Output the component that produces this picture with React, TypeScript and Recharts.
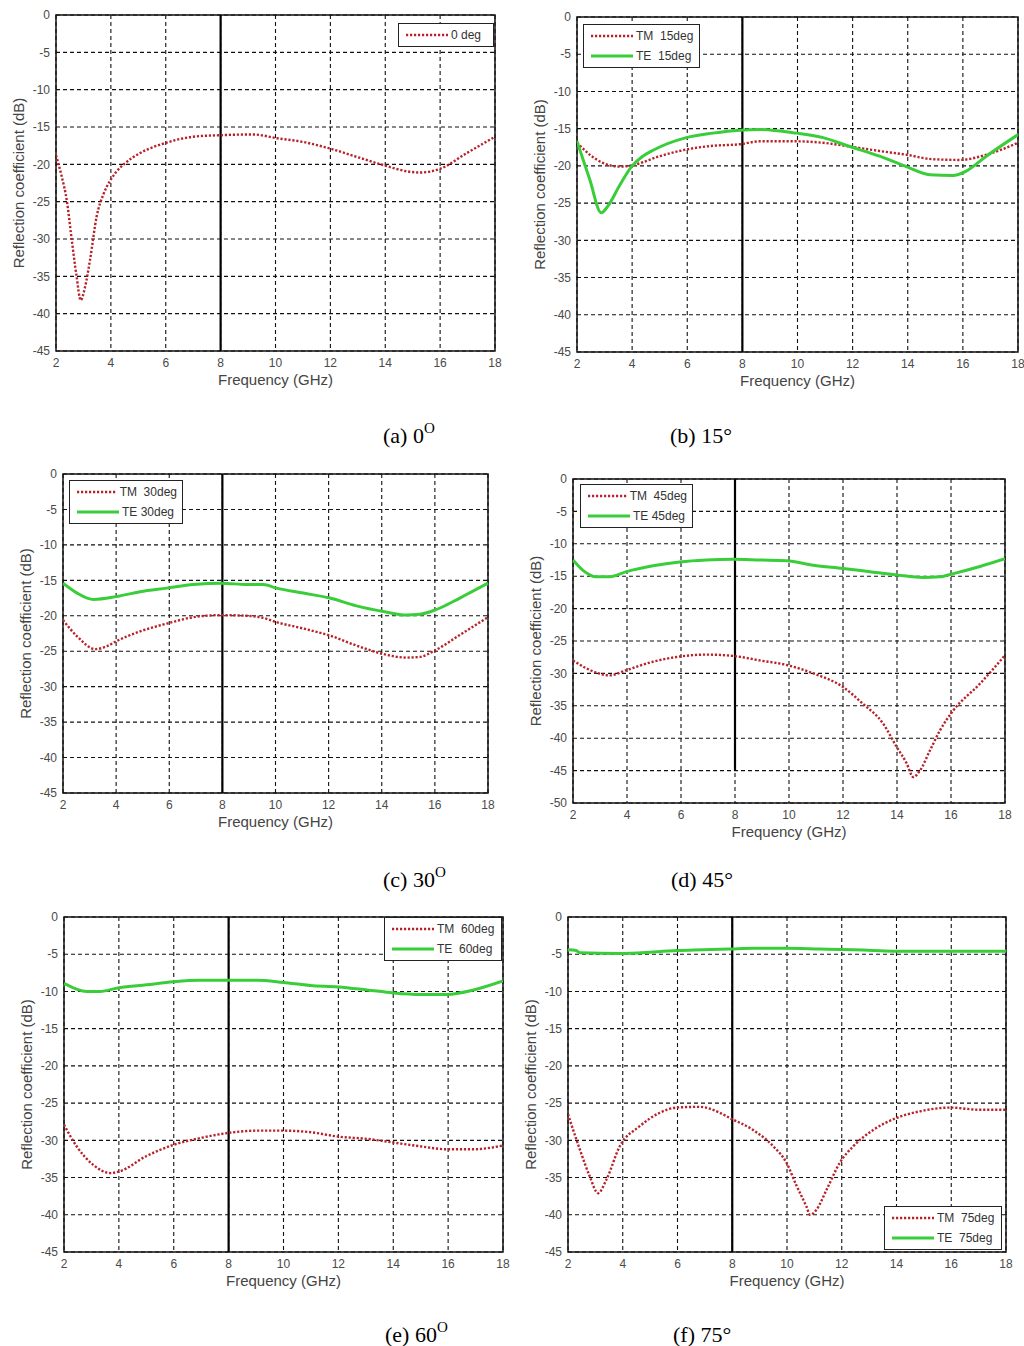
import React from 'react';
import {
  LineChart,
  Line,
  XAxis,
  YAxis,
  CartesianGrid,
  ReferenceLine,
  ReferenceArea,
  Legend,
} from 'recharts';

// ---------- shared ticks ----------
const FREQ_TICKS = [2, 4, 6, 8, 10, 12, 14, 16, 18];
const DB_TICKS_45 = [-45, -40, -35, -30, -25, -20, -15, -10, -5, 0];
const DB_TICKS_50 = [-50, -45, -40, -35, -30, -25, -20, -15, -10, -5, 0];

// ---------- (a) 0 deg ----------
const freqA_TM = [2.0, 2.2, 2.4, 2.57, 2.75, 2.9, 3.06, 3.24, 3.48, 3.73, 3.97, 4.2, 4.5, 5.06, 6.03, 7.0, 7.98, 9.2, 10.05, 11.0, 12.0, 12.96, 13.93, 14.9, 15.27, 16.0, 16.97, 18.0];
const dbA_TM = [-18.8, -21.5, -25.0, -30.0, -35.0, -38.2, -36.4, -32.8, -27.0, -24.0, -22.2, -21.0, -19.9, -18.5, -17.1, -16.3, -16.1, -16.0, -16.5, -17.0, -17.9, -19.0, -20.1, -21.0, -21.1, -20.6, -18.5, -16.3];

// ---------- (b) 15 deg ----------
const freqB_TM = [2.0, 2.5, 2.94, 3.55, 4.03, 5.0, 5.97, 6.93, 7.9, 8.63, 9.96, 10.93, 11.9, 12.98, 13.95, 14.9, 15.88, 16.85, 18.0];
const dbB_TM = [-16.9, -18.6, -19.6, -20.1, -19.9, -18.7, -17.8, -17.3, -17.1, -16.7, -16.7, -16.9, -17.4, -18.0, -18.5, -19.1, -19.2, -18.5, -16.9];
const freqB_TE = [2.0, 2.46, 2.88, 3.12, 3.55, 4.0, 4.35, 4.76, 5.97, 6.93, 7.9, 8.63, 9.96, 10.93, 11.9, 12.98, 13.95, 14.8, 15.64, 16.12, 16.85, 18.0];
const dbB_TE = [-16.7, -21.8, -26.3, -25.4, -22.6, -20.0, -18.8, -17.9, -16.2, -15.6, -15.2, -15.1, -15.6, -16.2, -17.4, -18.7, -20.1, -21.2, -21.3, -20.7, -18.7, -15.8];

// ---------- (c) 30 deg ----------
const freqC_TM = [2.0, 2.53, 3.22, 3.65, 4.0, 4.9, 5.91, 6.91, 7.98, 8.92, 9.54, 10.04, 11.05, 12.05, 13.05, 14.06, 14.93, 15.43, 16.0, 16.94, 18.0];
const dbC_TM = [-20.6, -22.9, -24.7, -24.3, -23.6, -22.2, -21.1, -20.2, -19.9, -20.0, -20.3, -20.9, -21.8, -22.8, -24.2, -25.4, -25.9, -25.8, -24.9, -22.7, -20.2];
const freqC_TE = [2.0, 2.53, 3.15, 4.0, 4.9, 5.91, 6.91, 7.98, 8.92, 9.54, 10.04, 11.05, 12.05, 13.05, 14.06, 14.93, 15.43, 16.0, 16.94, 18.0];
const dbC_TE = [-15.4, -16.8, -17.7, -17.3, -16.6, -16.1, -15.6, -15.4, -15.6, -15.6, -16.1, -16.8, -17.5, -18.6, -19.4, -19.9, -19.8, -19.2, -17.5, -15.4];

// ---------- (d) 45 deg ----------
const freqD_TM = [2.0, 2.49, 3.36, 3.98, 4.96, 5.95, 6.94, 7.93, 8.92, 9.91, 10.9, 12.0, 12.74, 13.48, 13.98, 14.36, 14.6, 14.85, 15.22, 15.59, 16.09, 17.07, 18.0];
const dbD_TM = [-28.0, -29.2, -30.3, -29.5, -28.2, -27.4, -27.1, -27.3, -28.0, -28.7, -30.0, -32.1, -34.7, -37.7, -41.3, -43.9, -46.0, -45.0, -41.9, -38.8, -35.7, -31.6, -27.2];
const freqD_TE = [2.0, 2.37, 2.86, 3.36, 3.98, 4.96, 5.95, 6.94, 7.93, 8.92, 9.91, 10.9, 12.0, 12.99, 13.98, 14.97, 15.59, 16.09, 17.07, 18.0];
const dbD_TE = [-12.5, -14.1, -15.1, -15.1, -14.3, -13.4, -12.8, -12.5, -12.4, -12.5, -12.6, -13.3, -13.8, -14.3, -14.8, -15.2, -15.1, -14.6, -13.5, -12.3];

// ---------- (e) 60 deg ----------
const freqE_TM = [2.0, 2.46, 3.07, 3.68, 4.0, 5.01, 5.99, 6.96, 8.0, 9.03, 10.0, 10.97, 12.0, 13.04, 14.01, 14.98, 15.96, 16.93, 18.0];
const dbE_TM = [-27.9, -30.8, -33.3, -34.4, -34.2, -32.1, -30.6, -29.7, -29.0, -28.7, -28.7, -28.9, -29.5, -29.8, -30.3, -30.8, -31.2, -31.2, -30.7];
const freqE_TE = [2.0, 2.83, 3.31, 4.0, 5.01, 5.99, 6.96, 8.0, 9.03, 10.0, 10.97, 12.0, 13.04, 14.01, 14.98, 15.96, 16.93, 18.0];
const dbE_TE = [-8.9, -10.0, -10.0, -9.5, -9.1, -8.7, -8.5, -8.5, -8.5, -8.8, -9.2, -9.4, -9.8, -10.2, -10.4, -10.4, -9.8, -8.6];

// ---------- (f) 75 deg ----------
const freqF_TM = [2.0, 2.43, 2.79, 3.1, 3.4, 3.89, 4.62, 5.35, 5.96, 6.81, 7.55, 7.91, 8.76, 9.5, 9.98, 10.35, 10.71, 10.84, 11.08, 11.45, 11.93, 12.42, 13.15, 14.0, 14.86, 15.96, 17.05, 18.0];
const dbF_TM = [-26.5, -31.2, -34.8, -37.1, -35.3, -30.8, -28.1, -26.3, -25.6, -25.5, -26.3, -27.0, -28.6, -30.8, -33.0, -36.1, -38.9, -40.0, -39.3, -36.6, -33.0, -30.8, -28.6, -27.0, -26.1, -25.6, -25.9, -25.9];
const freqF_TE = [2.0, 2.3, 2.43, 3.89, 5.11, 5.96, 6.94, 7.91, 8.76, 9.98, 11.2, 12.42, 13.15, 14.0, 16.08, 18.0];
const dbF_TE = [-4.4, -4.5, -4.8, -4.9, -4.7, -4.5, -4.4, -4.3, -4.2, -4.2, -4.3, -4.4, -4.5, -4.6, -4.6, -4.6];

// ---------- text ----------
const X_LABEL = 'Frequency (GHz)';
const Y_LABEL = 'Reflection coefficient (dB)';
const CAPTION_MAIN = ['(a) 0', '(b) 15°', '(c) 30', '(d) 45°', '(e) 60', '(f) 75°'];
const CAPTION_SUP = ['O', '', 'O', '', 'O', ''];

// ---------- styles ----------
const SANS = '"Liberation Sans", Arial, Helvetica, sans-serif';
const SERIF = '"Liberation Serif", "Times New Roman", serif';
const TM_COLOR = '#b8232a';
const TE_COLOR = '#3acd3a';
const ML = 56; // y-axis width
const MT = 10;
const MR = 15;
const XH = 45;

const zip = (f: number[], v: number[]) => f.map((x, i) => ({ f: x, v: v[i] }));

type Series = { name: string; kind: 'TM' | 'TE'; data: { f: number; v: number }[] };
type PanelCfg = {
  plot: { x: number; y: number; w: number; h: number };
  yMin: number;
  yTicks: number[];
  refBottom: number;
  series: Series[];
  legend: { x: number; y: number; w: number };
};

const PANELS: PanelCfg[] = [
  {
    plot: { x: 56, y: 15, w: 439, h: 336 },
    yMin: -45,
    yTicks: DB_TICKS_45,
    refBottom: -45,
    series: [{ name: '0 deg', kind: 'TM', data: zip(freqA_TM, dbA_TM) }],
    legend: { x: 398, y: 23, w: 96 },
  },
  {
    plot: { x: 577, y: 17, w: 441, h: 335 },
    yMin: -45,
    yTicks: DB_TICKS_45,
    refBottom: -45,
    series: [
      { name: 'TM  15deg', kind: 'TM', data: zip(freqB_TM, dbB_TM) },
      { name: 'TE  15deg', kind: 'TE', data: zip(freqB_TE, dbB_TE) },
    ],
    legend: { x: 583, y: 24, w: 117 },
  },
  {
    plot: { x: 63, y: 474, w: 425, h: 319 },
    yMin: -45,
    yTicks: DB_TICKS_45,
    refBottom: -45,
    series: [
      { name: 'TM  30deg', kind: 'TM', data: zip(freqC_TM, dbC_TM) },
      { name: 'TE 30deg', kind: 'TE', data: zip(freqC_TE, dbC_TE) },
    ],
    legend: { x: 69, y: 480, w: 114 },
  },
  {
    plot: { x: 573, y: 479, w: 432, h: 324 },
    yMin: -50,
    yTicks: DB_TICKS_50,
    refBottom: -45,
    series: [
      { name: 'TM  45deg', kind: 'TM', data: zip(freqD_TM, dbD_TM) },
      { name: 'TE 45deg', kind: 'TE', data: zip(freqD_TE, dbD_TE) },
    ],
    legend: { x: 580, y: 484, w: 113 },
  },
  {
    plot: { x: 64, y: 917, w: 439, h: 335 },
    yMin: -45,
    yTicks: DB_TICKS_45,
    refBottom: -45,
    series: [
      { name: 'TM  60deg', kind: 'TM', data: zip(freqE_TM, dbE_TM) },
      { name: 'TE  60deg', kind: 'TE', data: zip(freqE_TE, dbE_TE) },
    ],
    legend: { x: 384, y: 917, w: 118 },
  },
  {
    plot: { x: 568, y: 917, w: 438, h: 335 },
    yMin: -45,
    yTicks: DB_TICKS_45,
    refBottom: -45,
    series: [
      { name: 'TM  75deg', kind: 'TM', data: zip(freqF_TM, dbF_TM) },
      { name: 'TE  75deg', kind: 'TE', data: zip(freqF_TE, dbF_TE) },
    ],
    legend: { x: 884, y: 1206, w: 118 },
  },
];

const CAPTION_POS = [
  { x: 383, y: 443 },
  { x: 670, y: 443 },
  { x: 383, y: 887 },
  { x: 671, y: 887 },
  { x: 385, y: 1342 },
  { x: 673, y: 1342 },
];

const tickStyle = { fill: '#4a4a4a', fontSize: 12, fontFamily: SANS };

const LegendBox = ({ series }: { series: Series[] }) => (
  <div
    style={{
      border: '1.5px solid #222',
      background: '#fff',
      padding: '1px 5px 1px 7px',
      fontFamily: SANS,
      fontSize: 12,
      color: '#333',
      boxSizing: 'border-box',
    }}
  >
    {series.map((s) => (
      <div key={s.name} style={{ display: 'flex', alignItems: 'center', height: 20 }}>
        <svg width={42} height={6} style={{ display: 'block' }}>
          <line
            x1={0}
            y1={3}
            x2={42}
            y2={3}
            stroke={s.kind === 'TM' ? TM_COLOR : TE_COLOR}
            strokeWidth={s.kind === 'TM' ? 2.4 : 3}
            strokeDasharray={s.kind === 'TM' ? '2.2 1.8' : undefined}
          />
        </svg>
        <span style={{ marginLeft: 3, whiteSpace: 'pre' }}>{s.name}</span>
      </div>
    ))}
  </div>
);

const Panel = ({ cfg }: { cfg: PanelCfg }) => {
  const { plot } = cfg;
  const width = ML + plot.w + MR;
  const height = MT + plot.h + XH;
  const left = plot.x - ML;
  const top = plot.y - MT;
  return (
    <div style={{ position: 'absolute', left, top, width, height }}>
      <LineChart width={width} height={height} margin={{ top: MT, right: MR, bottom: 0, left: 0 }}>
        <CartesianGrid stroke="#111" strokeDasharray="4 3" strokeWidth={1.1} />
        <XAxis
          dataKey="f"
          type="number"
          domain={[2, 18]}
          ticks={FREQ_TICKS}
          allowDataOverflow
          height={XH}
          tickSize={0}
          tickMargin={7}
          axisLine={false}
          tick={tickStyle}
          label={(p: any) => {
            const vb = p.viewBox || {};
            return (
              <text
                x={vb.x + vb.width / 2}
                y={vb.y + 34}
                textAnchor="middle"
                fontSize={15}
                fontFamily={SANS}
                fill="#444"
              >
                {X_LABEL}
              </text>
            );
          }}
        />
        <YAxis
          type="number"
          domain={[cfg.yMin, 0]}
          ticks={cfg.yTicks}
          allowDataOverflow
          width={ML}
          tickSize={0}
          tickMargin={6}
          axisLine={false}
          tick={tickStyle}
          label={(p: any) => {
            const vb = p.viewBox || {};
            const cx = vb.x + vb.width - 38;
            const cy = vb.y + vb.height / 2;
            return (
              <text
                x={cx}
                y={cy}
                transform={`rotate(-90 ${cx} ${cy})`}
                textAnchor="middle"
                dominantBaseline="central"
                fontSize={15}
                fontFamily={SANS}
                fill="#444"
              >
                {Y_LABEL}
              </text>
            );
          }}
        />
        <ReferenceArea
          x1={2}
          x2={18}
          y1={cfg.yMin}
          y2={0}
          fill="none"
          fillOpacity={0}
          stroke="#111"
          strokeWidth={1.5}
        />
        <ReferenceLine
          segment={[
            { x: 8, y: 0 },
            { x: 8, y: cfg.refBottom },
          ]}
          stroke="#000"
          strokeWidth={2.2}
        />
        {cfg.series.map((s) => (
          <Line
            key={s.name}
            data={s.data}
            dataKey="v"
            name={s.name}
            type="monotone"
            stroke={s.kind === 'TM' ? TM_COLOR : TE_COLOR}
            strokeWidth={s.kind === 'TM' ? 2.4 : 3}
            strokeDasharray={s.kind === 'TM' ? '2.2 1.8' : undefined}
            dot={false}
            activeDot={false}
            isAnimationActive={false}
          />
        ))}
        <Legend
          layout="horizontal"
          verticalAlign="middle"
          align="center"
          wrapperStyle={{
            position: 'absolute',
            left: cfg.legend.x - left,
            top: cfg.legend.y - top,
            width: cfg.legend.w,
            right: 'auto',
            bottom: 'auto',
            margin: 0,
          }}
          content={() => <LegendBox series={cfg.series} />}
        />
      </LineChart>
    </div>
  );
};

export default function App() {
  return (
    <div style={{ position: 'absolute', left: 0, top: 0, width: 1024, height: 1346, background: '#fff' }}>
      <svg width={1024} height={1346} style={{ position: 'absolute', left: 0, top: 0 }}>
        {CAPTION_POS.map((p, i) => (
          <text key={i} x={p.x} y={p.y} fontFamily={SERIF} fontSize={22} fill="#000">
            {CAPTION_MAIN[i]}
            {CAPTION_SUP[i] ? (
              <tspan fontSize={15} dy={-10}>
                {CAPTION_SUP[i]}
              </tspan>
            ) : null}
          </text>
        ))}
      </svg>
      {PANELS.map((cfg, i) => (
        <Panel key={i} cfg={cfg} />
      ))}
    </div>
  );
}
